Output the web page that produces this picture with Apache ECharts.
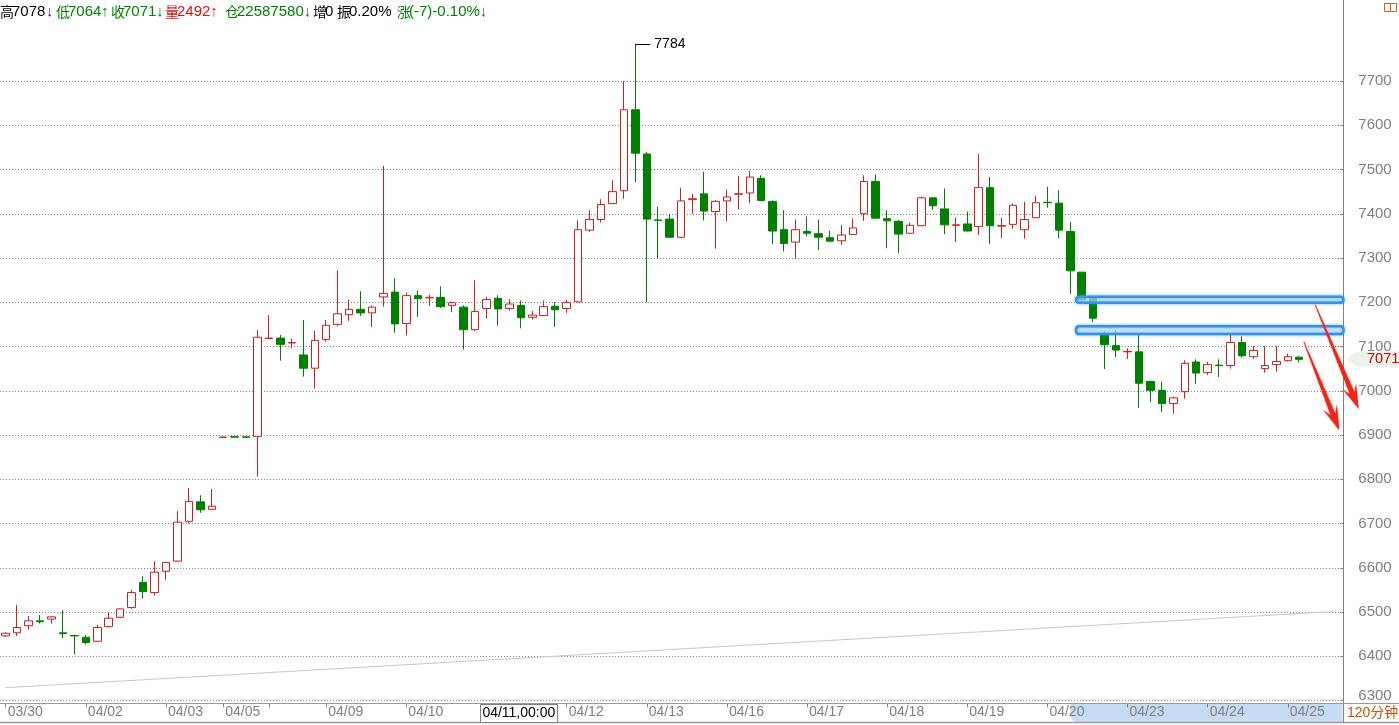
<!DOCTYPE html>
<html><head><meta charset="utf-8">
<script src="https://cdn.jsdelivr.net/npm/echarts@6/dist/echarts.min.js"></script>
<style>html,body{margin:0;padding:0;background:#fff}#c{width:1399px;height:725px}</style>
</head><body><div id="c"></div>
<script>
// ---- data (120-minute bars) ----
const openV  = [6446,6453,6469,6480,6484,6453,6447,6443,6434,6467,6488,6510,6567,6544,6592,6615,6705,6749,6732,6895,
6896,6896,6897,7118,7119,7108,7081,7051,7116,7150,7172,7184,7176,7212,7223,7152,7215,7210,7211,7193,
7189,7138,7186,7209,7186,7193,7166,7170,7191,7186,7201,7363,7387,7423,7452,7635,7535,7386,7388,7347,
7432,7445,7405,7429,7444,7447,7480,7428,7364,7336,7360,7355,7346,7339,7353,7400,7473,7389,7383,7356,
7373,7436,7411,7374,7377,7371,7459,7372,7376,7364,7391,7426,7424,7360,7268,7212,7128,7102,7088,7088,
7021,7001,6971,6998,7065,7041,7058,7057,7109,7077,7050,7059,7068,7076];
const closeV = [6452,6465,6480,6478,6489,6451,6446,6431,6465,6486,6507,6544,6546,6590,6612,6703,6750,6731,6739,6895,
6895,6895,7121,7119,7105,7109,7051,7114,7148,7174,7184,7176,7189,7220,7151,7215,7208,7211,7190,7199,
7138,7179,7206,7185,7196,7165,7171,7190,7183,7199,7364,7387,7421,7450,7635,7537,7388,7385,7347,7429,
7434,7406,7428,7438,7445,7483,7430,7361,7333,7364,7356,7347,7338,7352,7368,7473,7390,7384,7354,7374,
7436,7418,7375,7375,7361,7459,7373,7373,7419,7387,7425,7425,7363,7271,7206,7164,7104,7092,7089,7017,
7001,6971,6984,7062,7040,7059,7057,7109,7079,7091,7057,7066,7077,7071];
const lowV   = [6444,6446,6460,6474,6474,6441,6404,6427,6433,6465,6487,6507,6530,6537,6573,6614,6700,6724,6732,6895,
6895,6895,6806,7118,7068,7096,7032,7005,7111,7146,7158,7169,7144,7190,7131,7125,7167,7192,7187,7178,
7093,7135,7163,7147,7181,7141,7161,7169,7144,7176,7200,7359,7380,7422,7434,7471,7200,7300,7345,7345,
7400,7385,7321,7383,7410,7424,7428,7331,7315,7298,7349,7318,7337,7330,7352,7384,7389,7322,7311,7355,
7372,7409,7354,7336,7360,7352,7332,7345,7366,7344,7390,7414,7345,7219,7201,7155,7049,7076,7072,6961,
6974,6952,6948,6982,7016,7036,7031,7050,7075,7072,7041,7043,7066,7064];
const highV  = [6454,6516,6491,6493,6491,6504,6447,6448,6471,6498,6508,6550,6581,6615,6613,6728,6780,6764,6778,6895,
6896,6896,7137,7171,7126,7117,7160,7135,7160,7272,7206,7225,7193,7508,7254,7222,7227,7217,7236,7202,
7193,7250,7212,7216,7207,7204,7180,7204,7200,7205,7385,7408,7433,7476,7700,7784,7540,7416,7399,7459,
7445,7495,7431,7455,7486,7497,7487,7430,7408,7387,7394,7387,7362,7375,7389,7487,7489,7408,7386,7380,
7439,7437,7457,7392,7405,7535,7483,7391,7423,7427,7440,7461,7453,7382,7268,7214,7135,7137,7096,7125,
7023,7021,6987,7069,7071,7065,7071,7126,7123,7101,7101,7101,7084,7078];
const tickIdx  = [0,7,14,19,23,28,35,42,49,56,63,70,77,84,91,98,105,112];
const tickText = ['03/30','04/02','04/03','04/05','','04/09','04/10','04/11','04/12','04/13','04/16','04/17','04/18','04/19','04/20','04/23','04/24','04/25'];
const slotCount = 117;
const trendLine = [[0,6329],[116,6501]];
const cursorIdx = 45, cursorText = '04/11,00:00';
const peakIdx = 55;
const zones = [[93.5,7199,7212.5],[93.5,7128,7146]];   // [startIdx, low, high]
const arrows = [[[114.4,7194],[118.2,6959]],[[113.4,7111],[116.5,6911]]];
const lastPrice = 7071;
const periodText = '120分钟';

// ---- build ----
const categories = Array.from({length: slotCount}, (_, i) => 'b' + i);
const tickSet = new Set(tickIdx);
const labelOf = i => { const k = tickIdx.indexOf(i); return k >= 0 ? tickText[k] : ''; };
const candleData = openV.map((o, i) => [o, closeV[i], lowV[i], highV[i]]);

const RED = '#cc1f1f', GREEN = '#008000', GRAY = '#808080';
const FONT = '"Liberation Sans", Arial, "Noto Sans CJK SC", sans-serif';
const W = 1399, H = 725;
const gridRight = 59.7, axisOffset = 4;

const chart = echarts.init(document.getElementById('c'));
chart.setOption({
  animation: false,
  backgroundColor: '#ffffff',
  grid: { left: -2.74, right: gridRight, top: 41.2, bottom: 24.5 },
  xAxis: {
    type: 'category', data: categories, boundaryGap: true, offset: 3,
    axisLine: { show: false },
    axisTick: { show: true, alignWithLabel: true, length: 4, interval: i => tickSet.has(i), lineStyle: { color: GRAY } },
    axisLabel: { interval: i => tickSet.has(i), formatter: (v, i) => labelOf(i), align: 'left', margin: 2,
      padding: [0, 0, 0, 2], color: GRAY, fontSize: 14, fontFamily: FONT },
    splitLine: { show: false }
  },
  yAxis: {
    type: 'value', position: 'right', min: 6300, max: 7790, interval: 100, offset: axisOffset,
    axisLine: { show: true, lineStyle: { color: GRAY } },
    axisTick: { show: true, inside: true, length: 3, lineStyle: { color: GRAY } },
    axisLabel: { margin: 15, color: GRAY, fontSize: 15, fontFamily: FONT, showMaxLabel: false,
      formatter: v => v === 6300 ? '{b|6300}' : String(v),
      rich: { b: { color: GRAY, fontSize: 15, fontFamily: FONT, padding: [0, 0, 10, 0] } } },
    splitLine: { show: true, showMaxLine: false, lineStyle: { color: GRAY, type: [1, 2], width: 1 } }
  },
  series: [
    { type: 'candlestick', data: candleData, barWidth: 8,
      itemStyle: { color: '#ffffff', color0: GREEN, borderColor: RED, borderColor0: GREEN, borderWidth: 1 } },
    { type: 'line', data: trendLine, symbol: 'none', silent: true, lineStyle: { color: '#c8c8c8', width: 1 } }
  ]
});

// ---- annotations positioned through the chart's own scales ----
const X0 = chart.convertToPixel({ xAxisIndex: 0 }, 0);
const X1 = chart.convertToPixel({ xAxisIndex: 0 }, 1);
const px = i => X0 + (X1 - X0) * i;
const py = v => chart.convertToPixel({ yAxisIndex: 0 }, v);
const axisX = Math.round(W - gridRight + axisOffset) + 0.5;

function arrowPts(S, E) {
  const dx = E[0] - S[0], dy = E[1] - S[1], L = Math.hypot(dx, dy);
  const ux = dx / L, uy = dy / L, nx = -uy, ny = ux;
  const notch = 17, headL = 25, headW = 7.5, s0 = 0.4, s1 = 2.6;
  const B = [E[0] - ux * notch, E[1] - uy * notch];
  const Wb = [E[0] - ux * headL, E[1] - uy * headL];
  return [
    [S[0] + nx * s0, S[1] + ny * s0], [B[0] + nx * s1, B[1] + ny * s1], [Wb[0] + nx * headW, Wb[1] + ny * headW],
    [E[0], E[1]],
    [Wb[0] - nx * headW, Wb[1] - ny * headW], [B[0] - nx * s1, B[1] - ny * s1], [S[0] - nx * s0, S[1] - ny * s0]
  ];
}

const g = [];
// header
const hdr = [
  [0, '{c|高}{n|7078}', '#000'], [46, '{n|↓}', '#333'],
  [56, '{c|低}{n|7064↑}', GREEN], [111, '{c|收}{n|7071↓}', GREEN], [165, '{c|量}{n|2492↑}', '#e01010'],
  [225, '{c|仓}{n|22587580↓}', GREEN], [313, '{c|增}{n|0}', '#000'], [337, '{c|振}{n|0.20%}', '#000'],
  [397, '{c|涨}{n|(-7)-0.10%↓}', GREEN]
];
hdr.forEach(([x, t, col]) => g.push({ type: 'text', x: x, y: 12, z: 100, style: { text: t, fill: col, verticalAlign: 'middle',
  rich: { c: { fontSize: 14, fontFamily: '"Noto Sans CJK SC", sans-serif', fill: col, padding: [0, -2, 0, 0] }, n: { fontSize: 15, fontFamily: FONT, fill: col } } } }));
// top-right icon
g.push({ type: 'rect', z: 100, shape: { x: 1384.5, y: 3.5, width: 6, height: 8 }, style: { fill: 'none', stroke: '#c8641e', lineWidth: 1 } });
g.push({ type: 'rect', z: 100, shape: { x: 1390.5, y: 3.5, width: 6, height: 8 }, style: { fill: 'none', stroke: '#c8641e', lineWidth: 1 } });
// frame lines
g.push({ type: 'line', z: 50, shape: { x1: axisX, y1: 0, x2: axisX, y2: 723 }, style: { stroke: GRAY, lineWidth: 1 } });
g.push({ type: 'line', z: 50, shape: { x1: 0, y1: 703.5, x2: W, y2: 703.5 }, style: { stroke: '#9a9a9a', lineWidth: 1 } });
g.push({ type: 'line', z: 50, shape: { x1: 0, y1: 722.5, x2: W, y2: 722.5 }, style: { stroke: '#9a9a9a', lineWidth: 1.5 } });
// selection strip on x axis
g.push({ type: 'rect', z: -1, shape: { x: px(93), y: 704, width: axisX - px(93) - 1, height: 18, r: [0, 0, 0, 7] }, style: { fill: '#c6dcf4' } });
// cursor date box
g.push({ type: 'rect', z: 100, shape: { x: Math.round(px(cursorIdx) - 40.5) + 0.5, y: 704.5, width: 77, height: 18 }, style: { fill: '#fff', stroke: GRAY, lineWidth: 1 } });
g.push({ type: 'text', z: 101, x: px(cursorIdx) - 2, y: 713.5, style: { text: cursorText, fill: '#000', fontSize: 14, fontFamily: FONT, align: 'center', verticalAlign: 'middle' } });
// period box
g.push({ type: 'text', z: 100, x: 1347, y: 713, style: { text: periodText, fill: '#c8500a', fontSize: 14, fontFamily: FONT + ',"Noto Sans CJK SC"', verticalAlign: 'middle' } });
// peak label
const pkY = Math.round(py(highV[peakIdx])) + 0.5, pkX = px(peakIdx);
g.push({ type: 'line', z: 100, shape: { x1: pkX, y1: pkY, x2: pkX + 15, y2: pkY }, style: { stroke: '#000', lineWidth: 1 } });
g.push({ type: 'text', z: 100, x: pkX + 19, y: pkY, style: { text: String(highV[peakIdx]), fill: '#000', fontSize: 14, fontFamily: FONT, verticalAlign: 'middle' } });
// blue zones
zones.forEach(([i0, lo, hi]) => g.push({ type: 'rect', z: 60,
  shape: { x: px(i0), y: py(hi), width: axisX - px(i0), height: py(lo) - py(hi), r: 3 },
  style: { fill: 'rgba(225,240,253,0.55)', stroke: '#3592e6', lineWidth: 2.5, shadowBlur: 3, shadowColor: 'rgba(60,150,230,0.7)' } }));
// red arrows
arrows.forEach(([s, e]) => g.push({ type: 'polygon', z: 70,
  shape: { points: arrowPts([px(s[0]), py(s[1])], [px(e[0]), py(e[1])]) },
  style: { fill: '#f2251a', shadowBlur: 2, shadowColor: 'rgba(240,40,30,0.5)' } }));
// last price tag
const ly = py(lastPrice);
g.push({ type: 'polygon', z: 80, shape: { points: [[axisX + 2, ly], [axisX + 13, ly - 7.5], [W, ly - 7.5], [W, ly + 7.5], [axisX + 13, ly + 7.5]] }, style: { fill: '#ecf4ea' } });
g.push({ type: 'text', z: 81, x: 1367, y: ly, style: { text: String(lastPrice), fill: '#cc0000', fontSize: 14.5, fontFamily: FONT, verticalAlign: 'middle' } });

chart.setOption({ graphic: { elements: g } });
</script></body></html>
